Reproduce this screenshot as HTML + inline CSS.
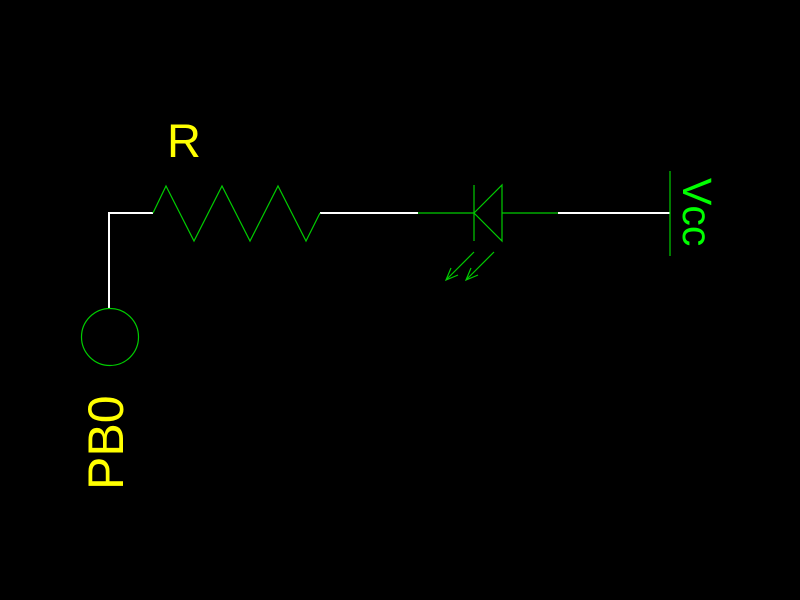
<!DOCTYPE html>
<html><head><meta charset="utf-8"><style>html,body{margin:0;background:#000;width:800px;height:600px;overflow:hidden}</style></head>
<body>
<svg width="800" height="600" viewBox="0 0 800 600" style="display:block">
<rect width="800" height="600" fill="#000"/>
<g fill="none" stroke="#fff" stroke-width="2">
<polyline points="109,308 109,213 153,213"/>
<line x1="320" y1="213" x2="418" y2="213"/>
<line x1="558" y1="213" x2="670" y2="213"/>
</g>
<g fill="none" stroke="#00cc00" stroke-width="1.2">
<polyline points="153,213 166,186 194,241 222,186 250,241 278,186 306,241 320,213"/>
<circle cx="110" cy="337" r="28.5"/>
<g>
<line x1="418" y1="213" x2="474" y2="213"/>
<line x1="502" y1="213" x2="558" y2="213"/>
<line x1="474" y1="185" x2="474" y2="241"/>
<polygon points="474,213 502,185 502,241"/>
<line x1="474" y1="252" x2="446" y2="280"/>
<polyline points="451,268 446,280 458,275"/>
<line x1="494" y1="252" x2="466" y2="280"/>
<polyline points="471,268 466,280 478,275"/>
</g>
<line x1="670" y1="171" x2="670" y2="256"/>
</g>
<text x="167" y="157" fill="#ffff00" font-family="Liberation Sans, sans-serif" font-size="47">R</text>
<text transform="translate(123,490) rotate(-90)" fill="#ffff00" font-family="Liberation Sans, sans-serif" font-size="50">PB0</text>
<text transform="translate(683,178) rotate(90)" fill="#00ff00" font-family="Liberation Sans, sans-serif" font-size="41">Vcc</text>
</svg>
</body></html>
